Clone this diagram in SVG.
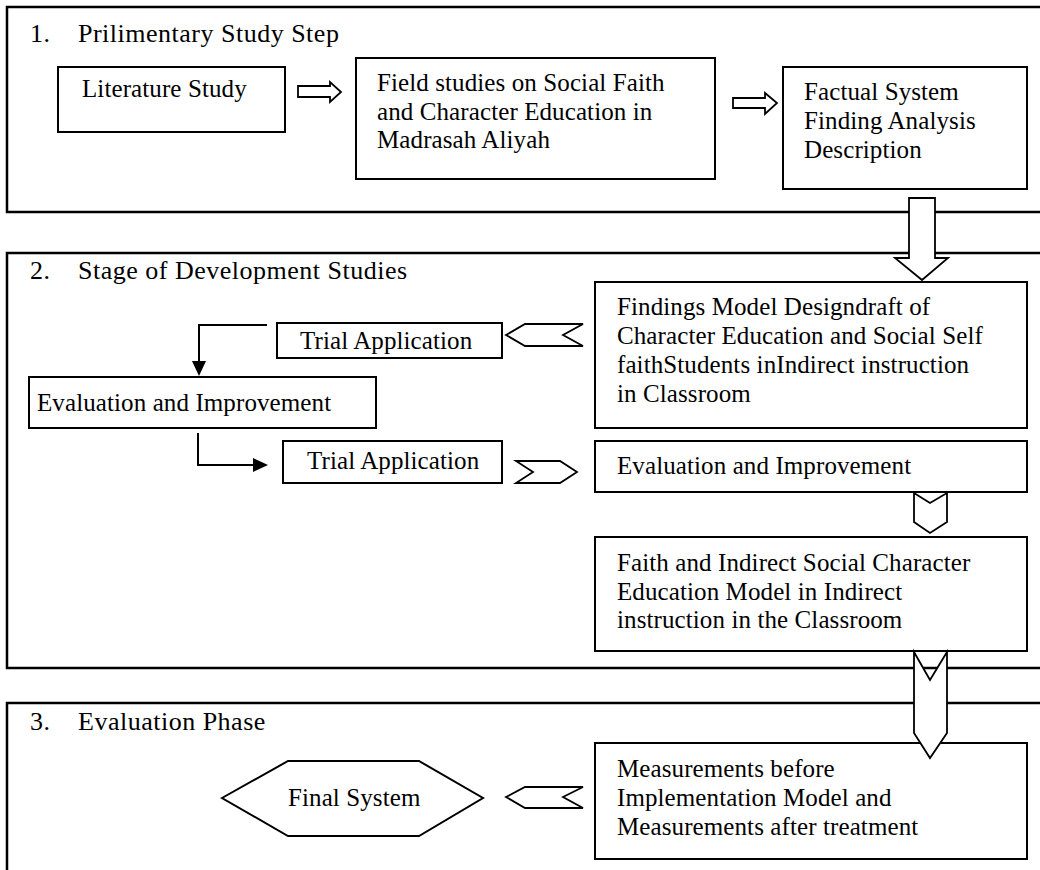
<svg xmlns="http://www.w3.org/2000/svg" width="1040" height="870" viewBox="0 0 1040 870">
<style>
  .sec { fill: none; stroke: #000; stroke-width: 2.5; }
  .box { fill: #fff; stroke: #000; stroke-width: 2; }
  .title { font-family: "Liberation Serif", "Times New Roman", serif; font-size: 26px; letter-spacing: 0.5px; fill: #000; }
  .t { font-family: "Liberation Serif", "Times New Roman", serif; font-size: 25px; letter-spacing: 0.1px; fill: #000; }
  .blk { fill: #fff; stroke: #000; stroke-width: 1.8; stroke-linejoin: miter; }
  .ln { fill: none; stroke: #000; stroke-width: 2; }
</style>
<rect width="1040" height="870" fill="#fff"/>

<g id="sections">
  <rect class="sec" x="7" y="7" width="1045" height="205"/>
  <rect class="sec" x="7" y="253" width="1045" height="415"/>
  <rect class="sec" x="7" y="703" width="1045" height="200"/>
  <text class="title" x="30" y="42">1.</text>
  <text class="title" x="78" y="42">Prilimentary Study Step</text>
  <text class="title" x="30" y="279">2.</text>
  <text class="title" x="78" y="279">Stage of Development Studies</text>
  <text class="title" x="30" y="730">3.</text>
  <text class="title" x="78" y="730">Evaluation Phase</text>
</g>

<g id="literature">
  <rect class="box" x="58" y="67" width="227" height="65"/>
  <text class="t" x="82" y="97">Literature Study</text>
</g>

<g id="field">
  <rect class="box" x="356" y="58" width="359" height="121"/>
  <text class="t" x="377" y="91">Field studies on Social Faith</text>
  <text class="t" x="377" y="119.5">and Character Education in</text>
  <text class="t" x="377" y="148">Madrasah Aliyah</text>
</g>

<g id="factual">
  <rect class="box" x="783" y="67" width="244" height="122"/>
  <text class="t" x="804" y="100">Factual System</text>
  <text class="t" x="804" y="129">Finding Analysis</text>
  <text class="t" x="804" y="158">Description</text>
</g>

<g id="findings">
  <rect class="box" x="595" y="282" width="432" height="146"/>
  <text class="t" x="617" y="315">Findings Model Designdraft of</text>
  <text class="t" x="617" y="344">Character Education and Social Self</text>
  <text class="t" x="617" y="373">faithStudents inIndirect instruction</text>
  <text class="t" x="617" y="402">in Classroom</text>
</g>

<g id="trial1">
  <rect class="box" x="277" y="323" width="225" height="35"/>
  <text class="t" x="300" y="349">Trial Application</text>
</g>

<g id="eval1">
  <rect class="box" x="29" y="377" width="347" height="51"/>
  <text class="t" x="37" y="411">Evaluation and Improvement</text>
</g>

<g id="trial2">
  <rect class="box" x="283" y="441" width="219" height="42"/>
  <text class="t" x="307" y="469">Trial Application</text>
</g>

<g id="eval2">
  <rect class="box" x="595" y="441" width="432" height="51"/>
  <text class="t" x="617" y="474">Evaluation and Improvement</text>
</g>

<g id="faith">
  <rect class="box" x="595" y="537" width="432" height="114"/>
  <text class="t" x="617" y="571">Faith and Indirect Social Character</text>
  <text class="t" x="617" y="599.5">Education Model in Indirect</text>
  <text class="t" x="617" y="628">instruction in the Classroom</text>
</g>

<g id="measurements">
  <rect class="box" x="595" y="743" width="432" height="116"/>
  <text class="t" x="617" y="777">Measurements before</text>
  <text class="t" x="617" y="806">Implementation Model and</text>
  <text class="t" x="617" y="835">Measurements after treatment</text>
</g>

<g id="final">
  <polygon class="box" points="222,798 288,761 419,761 483,798 419,836 288,836"/>
  <text class="t" x="288" y="806">Final System</text>
</g>

<g id="connectors">
  <polygon class="blk" points="298,86 330,86 330,82 341,92 330,102 330,97 298,97"/>
  <polygon class="blk" points="733,98 765,98 765,93 777,103 765,114 765,108 733,108"/>
  <polygon class="blk" points="909,198 935,198 935,258 948,258 922,280 895,258 909,258"/>
  <polygon class="blk" points="506,335 525,324 583,324 563,335 583,346 525,346"/>
  <polyline class="ln" points="267,325 199,325 199,362"/>
  <path d="M192,361 L206,361 L199,376 Z" fill="#000"/>
  <polyline class="ln" points="198,433 198,465 254,465"/>
  <path d="M253,458 L253,472 L268,465 Z" fill="#000"/>
  <polygon class="blk" points="516,461 560,461 577,472 560,483 516,483 533,472"/>
  <polygon class="blk" points="914,493 930,503 947,493 947,522 930,533 914,522"/>
  <polygon class="blk" points="914,652 930,680 947,652 947,733 930,758 914,733"/>
  <polygon class="blk" points="506,797 525,787 583,787 563,797 583,808 525,808"/>
</g>
</svg>
